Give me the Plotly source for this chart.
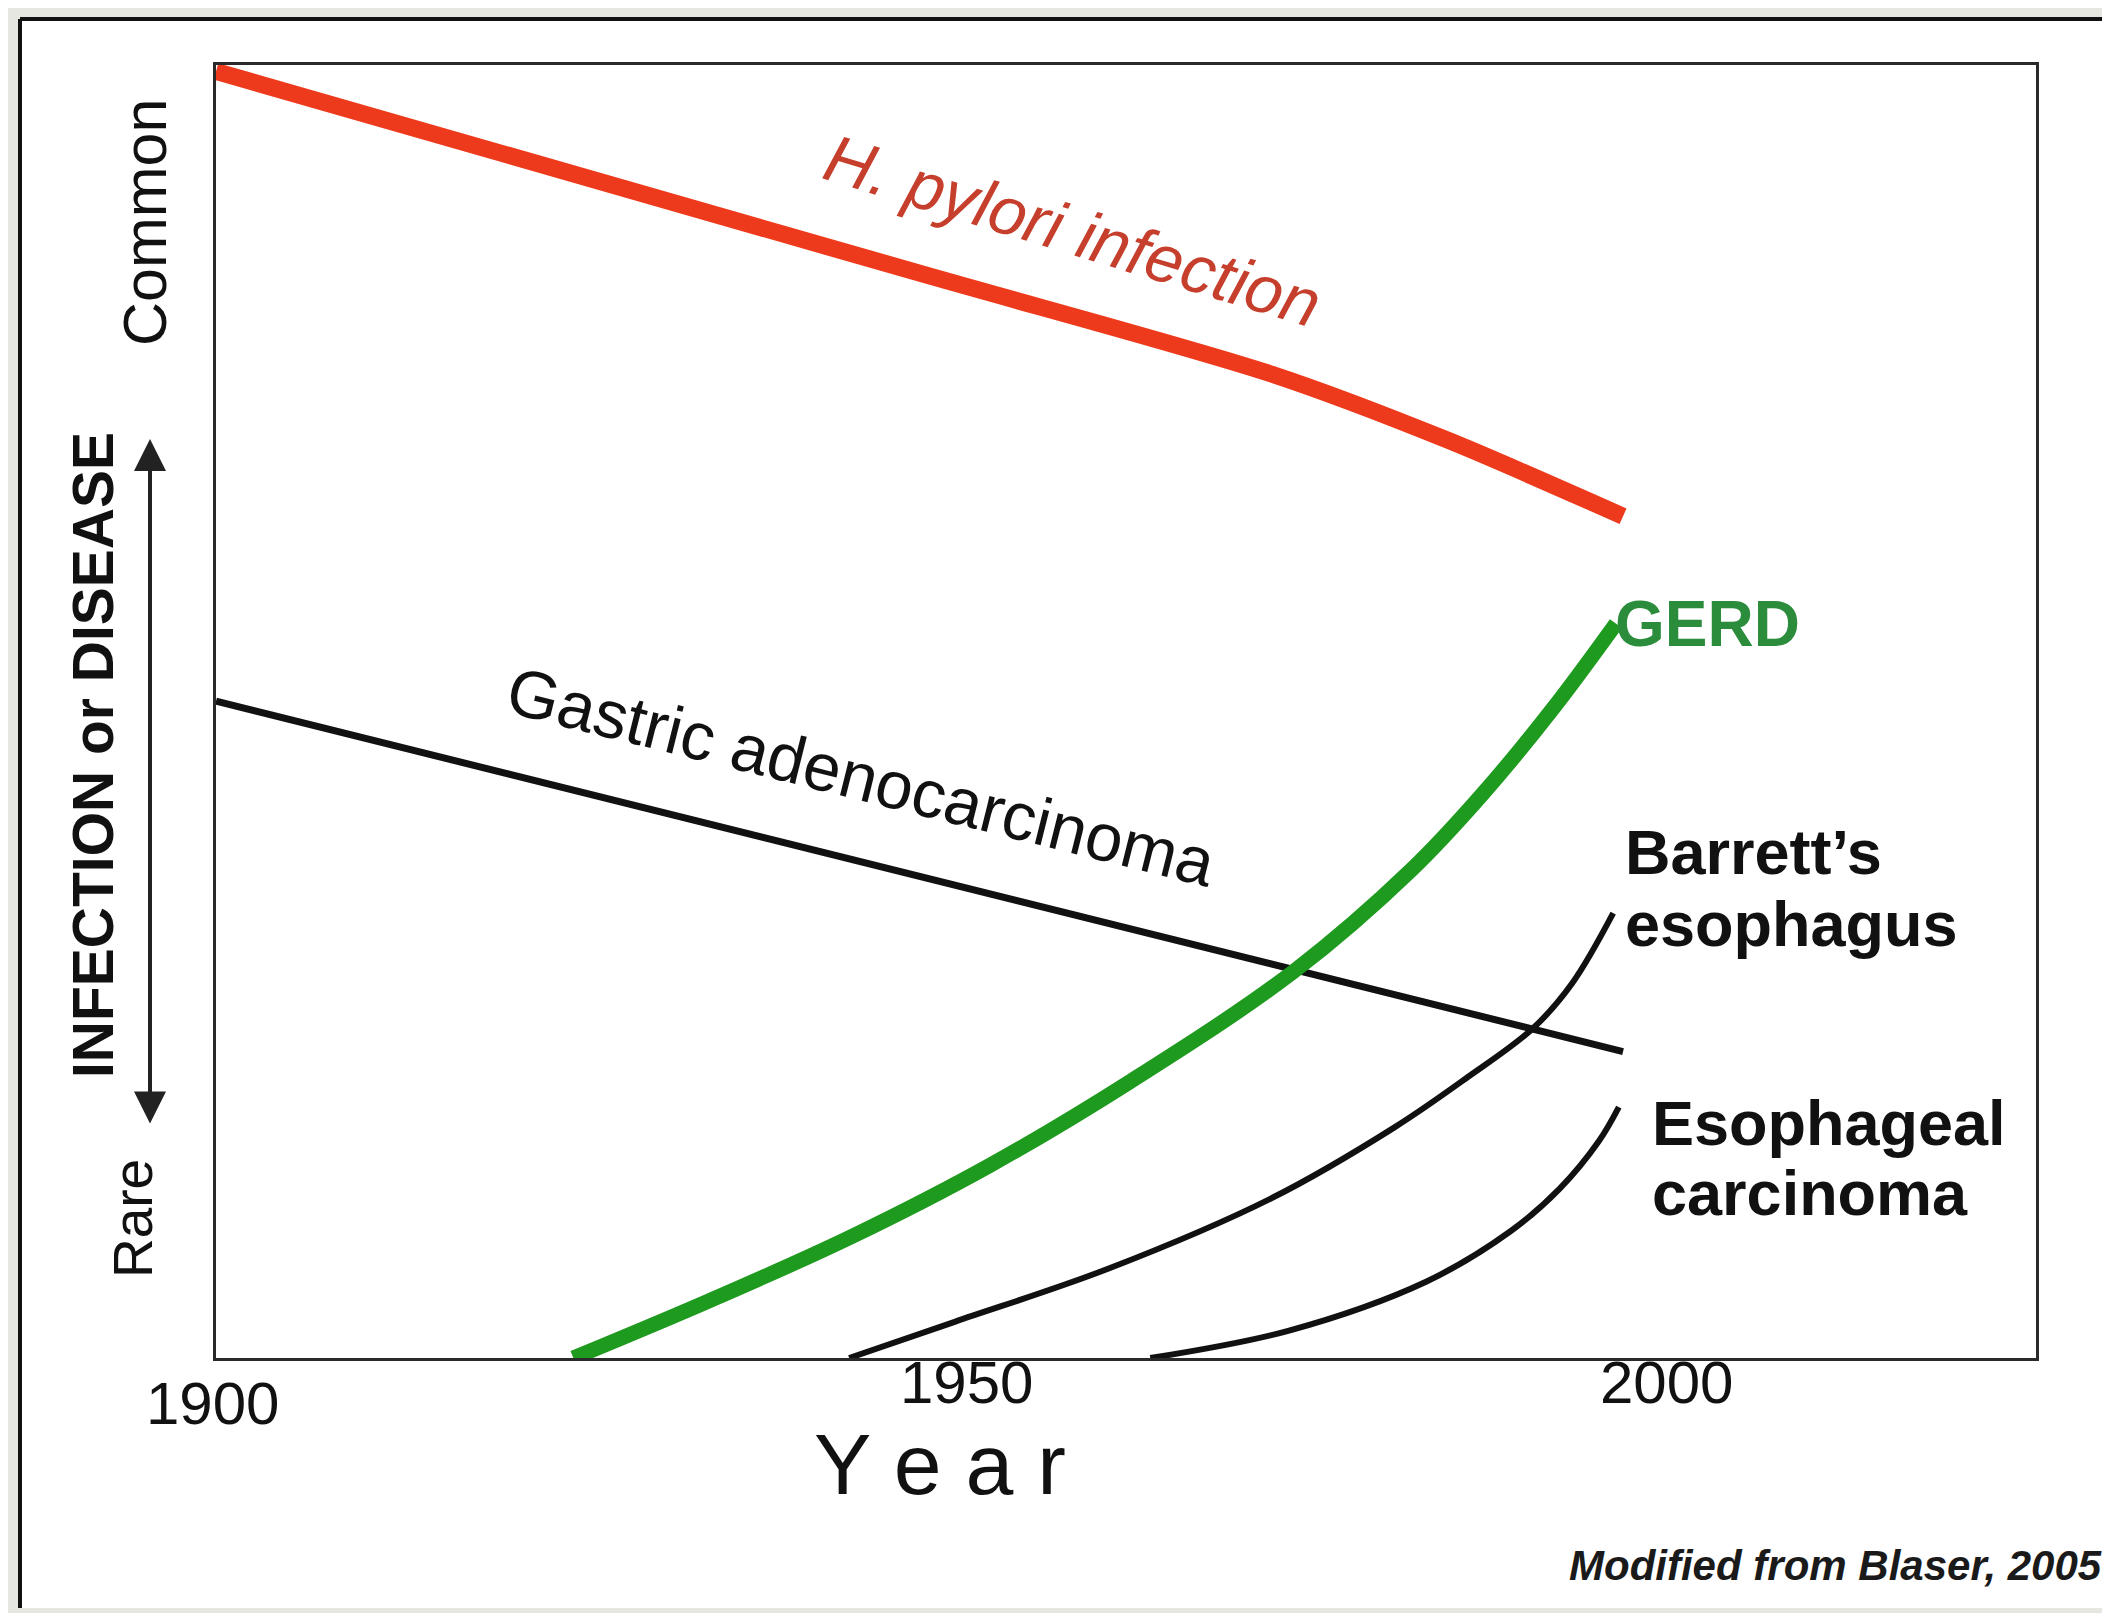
import plotly.graph_objects as go

# ---------------- data ----------------
years_hpylori = [1900, 1950, 1975, 1987.5, 2000]
hpylori = [99.5, 83.9, 76.1, 71.0, 65.1]

years_gastric = [1900, 1950, 2000]
gastric = [50.8, 37.3, 23.7]

years_gerd = [1925.4, 1935, 1945, 1955, 1965, 1976.6, 1985, 1990, 1995, 1999.5]
gerd = [0, 4.4, 9.3, 14.9, 21.4, 29.9, 37.8, 43.6, 50.2, 56.8]

years_barrett = [1945.0, 1952.5, 1963.4, 1975.0, 1983.7, 1988.8, 1993.6, 1996.4, 1999.3]
barrett = [0, 2.8, 6.9, 12.35, 17.8, 21.6, 25.5, 29.0, 34.4]

years_esoph = [1966.4, 1976.2, 1986.0, 1992.0, 1995.5, 1998.3, 1999.7]
esoph = [0, 2.1, 5.9, 9.8, 13.1, 16.8, 19.4]

tick_years = [1900, 1950, 2000]
tick_text = ["1900", "1950", "2000"]

# ---------------- layout constants ----------------
W, H = 2110, 1613
ML, MR, MT, MB = 208, 82, 57, 263
PW, PH = W - ML - MR, H - MT - MB

def px_x(p):
    return (p - ML) / PW

def px_y(p):
    return (H - MB - p) / PH

SANS = "Liberation Sans, Arial, Helvetica, sans-serif"
RED_LINE = "#ee3a1c"
RED_TEXT = "#c63e2c"
GREEN_LINE = "#1e9a1e"
GREEN_TEXT = "#2b8c3c"
BLACK = "#111111"

fig = go.Figure()

fig.add_trace(go.Scatter(x=years_hpylori, y=hpylori, mode="lines",
                         line=dict(color=RED_LINE, width=17, shape="spline",
                                   smoothing=0.8),
                         name="H. pylori infection", hoverinfo="skip"))
fig.add_trace(go.Scatter(x=years_gastric, y=gastric, mode="lines",
                         line=dict(color=BLACK, width=7),
                         name="Gastric adenocarcinoma", hoverinfo="skip"))
fig.add_trace(go.Scatter(x=years_barrett, y=barrett, mode="lines",
                         line=dict(color=BLACK, width=6, shape="spline",
                                   smoothing=1.0),
                         name="Barrett's esophagus", hoverinfo="skip"))
fig.add_trace(go.Scatter(x=years_esoph, y=esoph, mode="lines",
                         line=dict(color=BLACK, width=6, shape="spline",
                                   smoothing=1.0),
                         name="Esophageal carcinoma", hoverinfo="skip"))
fig.add_trace(go.Scatter(x=years_gerd, y=gerd, mode="lines",
                         line=dict(color=GREEN_LINE, width=15, shape="spline"),
                         name="GERD", hoverinfo="skip"))

ann = []
# series labels
ann.append(dict(x=1960.9, y=87.2, xref="x", yref="y", text="H. pylori infection",
                textangle=17, showarrow=False, xanchor="center", yanchor="middle",
                font=dict(family=SANS, size=67, color=RED_TEXT, style="italic")))
ann.append(dict(x=1945.9, y=45.0, xref="x", yref="y", text="Gastric adenocarcinoma",
                textangle=14, showarrow=False, xanchor="center", yanchor="middle",
                font=dict(family=SANS, size=67, color=BLACK)))
ann.append(dict(x=1999.3, y=56.8, xref="x", yref="y", text="GERD", showarrow=False,
                xanchor="left", yanchor="middle",
                font=dict(family=SANS, size=64, color=GREEN_TEXT, weight="bold")))
for txt, yv, xv in [("Barrett\u2019s", 39.1, 2000.0), ("esophagus", 33.6, 2000.0),
                    ("Esophageal", 18.2, 2001.9), ("carcinoma", 12.8, 2001.9)]:
    ann.append(dict(x=xv, y=yv, xref="x", yref="y", text=txt, showarrow=False,
                    xanchor="left", yanchor="middle",
                    font=dict(family=SANS, size=63, color=BLACK, weight="bold")))

# x tick labels
for yr, lab, xs, ys in zip(tick_years, tick_text, [-4, 47, 43], [-45, -24, -24]):
    ann.append(dict(x=yr, y=0, xref="x", yref="paper", text=lab, showarrow=False,
                    xanchor="center", yanchor="middle", xshift=xs, yshift=ys,
                    font=dict(family=SANS, size=60, color=BLACK)))
# x title
ann.append(dict(x=px_x(932), y=px_y(1456), xref="paper", yref="paper",
                text="Y e a r", showarrow=False, xanchor="center", yanchor="middle",
                font=dict(family=SANS, size=86, color=BLACK)))

# y-axis labels
ann.append(dict(x=px_x(137), y=px_y(215), xref="paper", yref="paper", text="Common",
                textangle=-90, showarrow=False, xanchor="center", yanchor="middle",
                font=dict(family=SANS, size=61, color=BLACK)))
ann.append(dict(x=px_x(85), y=px_y(747), xref="paper", yref="paper",
                text="INFECTION or DISEASE", textangle=-90, showarrow=False,
                xanchor="center", yanchor="middle",
                font=dict(family=SANS, size=57, color=BLACK, weight="bold")))
ann.append(dict(x=px_x(125), y=px_y(1211), xref="paper", yref="paper", text="Rare",
                textangle=-90, showarrow=False, xanchor="center", yanchor="middle",
                font=dict(family=SANS, size=55, color=BLACK)))
# double-headed arrow
ann.append(dict(x=px_x(142), y=px_y(431), xref="paper", yref="paper", text="",
                showarrow=True, ax=0, ay=686, axref="pixel", ayref="pixel",
                arrowhead=2, startarrowhead=2, arrowside="end+start",
                arrowsize=1.6, startarrowsize=1.6, arrowwidth=4, arrowcolor="#222222",
                standoff=0, startstandoff=0))

# source note
ann.append(dict(x=px_x(2096), y=px_y(1557), xref="paper", yref="paper",
                text="Modified from Blaser, 2005", showarrow=False,
                xanchor="right", yanchor="middle",
                font=dict(family=SANS, size=42, color="#1a1a1a", style="italic",
                          weight="bold")))

shapes = [
    dict(type="rect", xref="paper", yref="paper", x0=px_x(13), x1=px_x(2125),
         y0=px_y(1600), y1=px_y(11), fillcolor="white", line=dict(width=0),
         layer="below"),
    dict(type="line", xref="paper", yref="paper", x0=px_x(12), x1=px_x(2125),
         y0=px_y(11), y1=px_y(11), line=dict(color="#111111", width=4), layer="below"),
    dict(type="line", xref="paper", yref="paper", x0=px_x(12), x1=px_x(12),
         y0=px_y(11), y1=px_y(1600), line=dict(color="#111111", width=4), layer="below"),
]

fig.update_layout(
    width=W, height=H,
    margin=dict(l=ML, r=MR, t=MT, b=MB, pad=0),
    paper_bgcolor="#e7e7e2",
    plot_bgcolor="white",
    showlegend=False,
    annotations=ann,
    shapes=shapes,
    xaxis=dict(range=[1900, 2029.35], showgrid=False, zeroline=False,
               showticklabels=False, ticks="", showline=True, mirror=True,
               linecolor="#2a2a2a", linewidth=3, fixedrange=True),
    yaxis=dict(range=[0, 100], showgrid=False, zeroline=False,
               showticklabels=False, ticks="", showline=True, mirror=True,
               linecolor="#2a2a2a", linewidth=3, fixedrange=True),
)

fig.write_html("out.html", config={"displayModeBar": False})
